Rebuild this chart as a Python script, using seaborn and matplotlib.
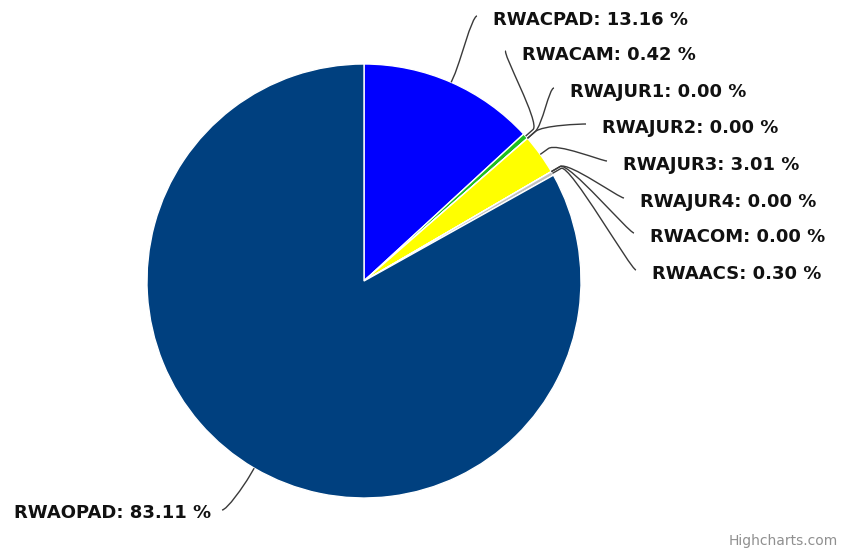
"""
Pie chart of RWA shares, Highcharts-like layout with curved label connectors
"""

import numpy as np
import matplotlib
matplotlib.use("Agg")
import matplotlib.pyplot as plt
import seaborn as sns
from matplotlib.path import Path
from matplotlib.patches import PathPatch

# Data
labels = ['RWACPAD', 'RWACAM', 'RWAJUR1', 'RWAJUR2', 'RWAJUR3',
          'RWAJUR4', 'RWACOM', 'RWAACS', 'RWAOPAD']
shares = [13.16, 0.42, 0.00, 0.00, 3.01, 0.00, 0.00, 0.30, 83.11]
colors = ['#0000FF', '#1FBF1F', '#3FA0FF', '#FF7F00', '#FFFF00',
          '#7F00FF', '#FF0000', '#C0C0C0', '#00407F']

# Layout (pixels, top-left origin like the screenshot)
W, H = 843, 551
cx, cy = 364, 281
radius = 217
right_label_x = [493, 522, 570, 602, 623, 640, 650, 652]
right_label_y = [20, 55, 92, 128, 165, 202, 237, 274]
left_label_right = 211
left_label_y = 513

sns.set_theme(style="white")
plt.rcParams['font.family'] = ['DejaVu Sans']

fig = plt.figure(figsize=(W / 100, H / 100), dpi=100)
ax = fig.add_axes([0, 0, 1, 1])

ax.pie(shares, colors=colors, startangle=90, counterclock=False,
       radius=radius, center=(cx, H - cy),
       wedgeprops=dict(edgecolor='white', linewidth=1))
ax.set_xlim(0, W)
ax.set_ylim(0, H)
ax.set_aspect('auto')
ax.axis('off')


def up(y):
    return H - y


def polar(theta, r):
    # theta in degrees, clockwise from top
    t = np.deg2rad(theta)
    return np.array([cx + r * np.sin(t), up(cy) + r * np.cos(t)])


def connector(theta, end, side):
    edge = polar(theta, radius)
    brk = polar(theta, radius + 10)
    refl = 2 * brk - edge
    c2 = np.array([end[0] - 5 * side, end[1]])
    verts = [edge, brk, refl, c2, end]
    codes = [Path.MOVETO, Path.LINETO, Path.CURVE4, Path.CURVE4, Path.CURVE4]
    ax.add_patch(PathPatch(Path(verts, codes), facecolor='none',
                           edgecolor='#3a3a3a', linewidth=1, zorder=3))


total = sum(shares)
cum = np.cumsum([0] + shares[:-1])
mids = [360 * (c + v / 2) / total for c, v in zip(cum, shares)]

text_kw = dict(fontsize=13, fontweight='bold', color='#111111', va='center')

for i in range(len(labels) - 1):
    lx, ly = right_label_x[i], right_label_y[i]
    end = np.array([lx - 16, up(ly - 4)])
    connector(mids[i], end, 1)
    ax.text(lx, up(ly), f"{labels[i]}: {shares[i]:.2f} %", ha='left', **text_kw)

end = np.array([left_label_right + 11, up(left_label_y - 3)])
connector(mids[-1], end, -1)
ax.text(left_label_right, up(left_label_y), f"{labels[-1]}: {shares[-1]:.2f} %",
        ha='right', **text_kw)

ax.text(838, up(541), 'Highcharts.com', ha='right', va='center',
        fontsize=10, color='#909090')

fig.savefig('out.png', dpi=100)
